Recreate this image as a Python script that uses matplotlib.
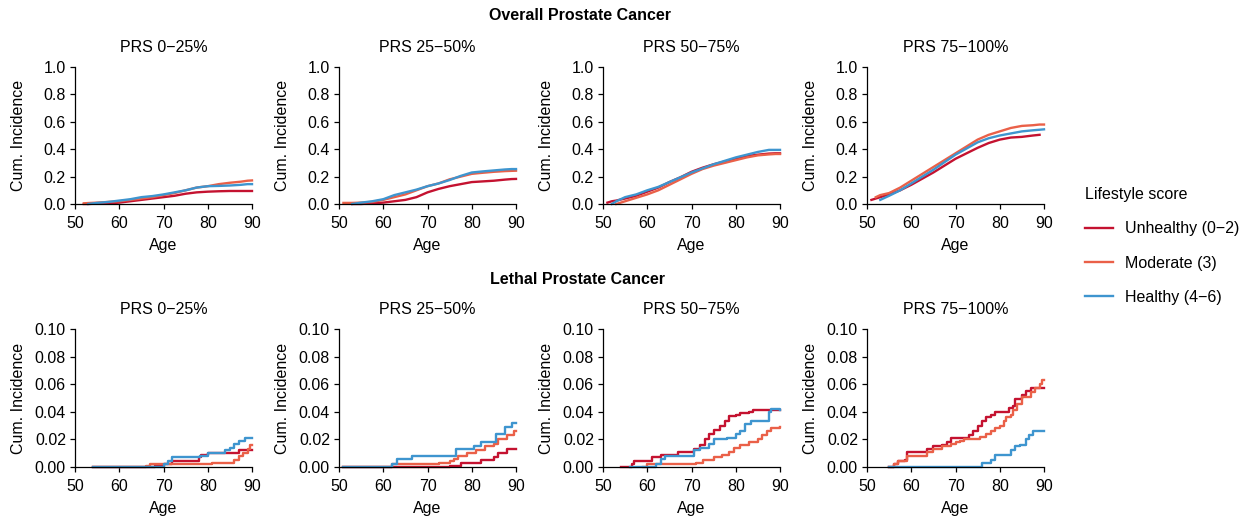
import numpy as np
import matplotlib
matplotlib.use('Agg')
import matplotlib.pyplot as plt

plt.rcParams['font.family'] = ['Liberation Sans', 'DejaVu Sans']
plt.rcParams['font.size'] = 11.5

nan = np.nan

# group labels
prs_groups = ['PRS 0\u221225%', 'PRS 25\u221250%', 'PRS 50\u221275%', 'PRS 75\u2212100%']
lifestyle = ['Unhealthy (0\u22122)', 'Moderate (3)', 'Healthy (4\u22126)']
colors = ['#C41230', '#EA6048', '#3E95CF']

# ---- overall prostate cancer ----
ages_ov = [50, 51, 52, 53, 55, 57.5, 60, 62.5, 65, 67.5, 70, 72.5, 75, 77.5, 80, 82.5, 85, 87.5, 89, 90]

ov1_unh = [nan, nan, 0.0, 0.0, 0.003, 0.005, 0.01, 0.02, 0.03, 0.04, 0.05, 0.06, 0.075, 0.085, 0.09, 0.093, 0.095, 0.095, 0.095, 0.095]
ov1_mod = [nan, nan, 0.005, 0.007, 0.01, 0.015, 0.02, 0.03, 0.04, 0.05, 0.065, 0.08, 0.1, 0.12, 0.13, 0.145, 0.155, 0.163, 0.17, 0.172]
ov1_hea = [nan, nan, nan, 0.0, 0.008, 0.015, 0.025, 0.035, 0.05, 0.058, 0.07, 0.085, 0.1, 0.12, 0.13, 0.132, 0.135, 0.14, 0.145, 0.145]

ov2_unh = [nan, nan, nan, 0.0, 0.0, 0.005, 0.01, 0.02, 0.03, 0.05, 0.085, 0.11, 0.13, 0.145, 0.16, 0.165, 0.17, 0.178, 0.182, 0.183]
ov2_mod = [nan, 0.008, 0.008, 0.008, 0.01, 0.015, 0.03, 0.05, 0.07, 0.1, 0.13, 0.15, 0.18, 0.2, 0.22, 0.228, 0.235, 0.24, 0.242, 0.243]
ov2_hea = [nan, nan, nan, 0.0, 0.01, 0.02, 0.035, 0.065, 0.085, 0.105, 0.13, 0.15, 0.175, 0.205, 0.23, 0.238, 0.245, 0.252, 0.255, 0.255]

ov3_unh = [nan, 0.01, 0.02, 0.025, 0.04, 0.06, 0.09, 0.12, 0.16, 0.195, 0.235, 0.265, 0.29, 0.31, 0.33, 0.35, 0.36, 0.368, 0.37, 0.37]
ov3_mod = [nan, nan, nan, 0.0, 0.02, 0.045, 0.07, 0.1, 0.14, 0.18, 0.22, 0.255, 0.28, 0.3, 0.32, 0.34, 0.355, 0.362, 0.365, 0.365]
ov3_hea = [nan, nan, 0.0, 0.02, 0.05, 0.07, 0.1, 0.125, 0.16, 0.195, 0.23, 0.26, 0.29, 0.315, 0.34, 0.36, 0.38, 0.395, 0.395, 0.395]

ov4_unh = [nan, 0.03, 0.04, 0.05, 0.07, 0.1, 0.14, 0.185, 0.23, 0.28, 0.33, 0.37, 0.41, 0.445, 0.47, 0.485, 0.49, 0.5, 0.505, nan]
ov4_mod = [nan, nan, 0.05, 0.065, 0.08, 0.12, 0.17, 0.22, 0.27, 0.32, 0.37, 0.42, 0.47, 0.505, 0.53, 0.555, 0.57, 0.575, 0.58, 0.58]
ov4_hea = [nan, nan, nan, 0.03, 0.06, 0.1, 0.15, 0.2, 0.25, 0.305, 0.36, 0.405, 0.45, 0.48, 0.5, 0.515, 0.53, 0.538, 0.542, 0.545]

# ---- lethal prostate cancer (step curves) ----
le1_unh_age = [54, 68, 70, 72, 78, 78.5, 80, 87, 88, 90]
le1_unh = [0.0, 0.001, 0.002, 0.004, 0.007, 0.009, 0.01, 0.012, 0.012, 0.012]
le1_mod_age = [54, 66, 67, 81, 86, 87, 88, 89, 89.5, 90]
le1_mod = [0.0, 0.001, 0.002, 0.003, 0.005, 0.008, 0.01, 0.013, 0.016, 0.016]
le1_hea_age = [54, 70, 71, 72, 78.3, 80, 84, 85, 86, 87, 88.5, 90]
le1_hea = [0.0, 0.002, 0.004, 0.007, 0.008, 0.01, 0.012, 0.014, 0.017, 0.019, 0.021, 0.021]

le2_unh_age = [51, 75, 77.5, 82, 85, 86, 88, 90]
le2_unh = [0.0, 0.001, 0.003, 0.005, 0.007, 0.01, 0.013, 0.013]
le2_mod_age = [51, 62, 72.5, 75, 76, 77, 79, 81, 83, 85, 86, 88, 89.5, 90]
le2_mod = [0.0, 0.002, 0.003, 0.004, 0.006, 0.008, 0.01, 0.012, 0.015, 0.017, 0.02, 0.023, 0.026, 0.026]
le2_hea_age = [51, 62, 63, 66.5, 76.5, 80.5, 82, 85.5, 87.5, 89, 90]
le2_hea = [0.0, 0.002, 0.006, 0.008, 0.013, 0.015, 0.018, 0.024, 0.029, 0.032, 0.032]

le3_unh_age = [54, 56.5, 57, 61, 63, 67, 70.5, 72, 73, 74, 75, 76.5, 77.5, 78.5, 80, 81, 83, 84, 90]
le3_unh = [0.0, 0.002, 0.004, 0.007, 0.009, 0.011, 0.013, 0.016, 0.02, 0.024, 0.027, 0.03, 0.033, 0.037, 0.038, 0.039, 0.04, 0.041, 0.041]
le3_mod_age = [59, 60, 71, 72.5, 75, 77, 78.5, 79.5, 81, 83, 85, 86, 87, 88, 90]
le3_mod = [0.0, 0.002, 0.003, 0.005, 0.007, 0.009, 0.011, 0.014, 0.016, 0.018, 0.02, 0.023, 0.026, 0.028, 0.029]
le3_hea_age = [56, 62, 63, 64, 70.5, 72, 74, 75, 78, 80, 81, 82, 83.5, 87.5, 88, 90]
le3_hea = [0.0, 0.002, 0.006, 0.008, 0.012, 0.014, 0.017, 0.02, 0.021, 0.024, 0.026, 0.031, 0.033, 0.04, 0.042, 0.041]

le4_unh_age = [55, 56, 57, 58.5, 59, 63.5, 65, 67, 68, 69, 73, 74, 75, 76, 77, 78, 79, 82, 83, 83.5, 85, 86, 87, 90]
le4_unh = [0.0, 0.002, 0.004, 0.005, 0.011, 0.013, 0.015, 0.016, 0.018, 0.021, 0.023, 0.026, 0.03, 0.033, 0.036, 0.038, 0.04, 0.043, 0.044, 0.049, 0.052, 0.055, 0.057, 0.057]
le4_mod_age = [55, 56, 57, 59, 63.5, 65, 67, 69, 70, 71, 72, 75.5, 77, 78, 79, 80, 81, 81.5, 82.5, 83, 84, 85, 87, 88, 89, 89.5, 90]
le4_mod = [0.0, 0.002, 0.004, 0.008, 0.011, 0.013, 0.015, 0.017, 0.018, 0.019, 0.02, 0.022, 0.024, 0.026, 0.028, 0.03, 0.033, 0.036, 0.038, 0.041, 0.046, 0.051, 0.054, 0.057, 0.06, 0.063, 0.063]
le4_hea_age = [55, 76, 78, 79, 82.5, 83.5, 84.5, 86, 86.5, 87.5, 90]
le4_hea = [0.0, 0.003, 0.005, 0.009, 0.012, 0.015, 0.016, 0.02, 0.023, 0.026, 0.026]

overall = [
    [ov1_unh, ov1_mod, ov1_hea],
    [ov2_unh, ov2_mod, ov2_hea],
    [ov3_unh, ov3_mod, ov3_hea],
    [ov4_unh, ov4_mod, ov4_hea],
]
lethal = [
    [(le1_unh_age, le1_unh), (le1_mod_age, le1_mod), (le1_hea_age, le1_hea)],
    [(le2_unh_age, le2_unh), (le2_mod_age, le2_mod), (le2_hea_age, le2_hea)],
    [(le3_unh_age, le3_unh), (le3_mod_age, le3_mod), (le3_hea_age, le3_hea)],
    [(le4_unh_age, le4_unh), (le4_mod_age, le4_mod), (le4_hea_age, le4_hea)],
]

W, H = 1259, 516
fig = plt.figure(figsize=(W / 100, H / 100), dpi=100)

col_left = [75, 339, 603, 867]
ax_w = 177


def style_axes(ax, ymax, yticks, fmt):
    ax.set_xlim(50, 90)
    ax.set_ylim(0, ymax)
    ax.set_xticks([50, 60, 70, 80, 90])
    ax.set_yticks(yticks)
    ax.set_yticklabels([fmt.format(t) for t in yticks])
    ax.spines['top'].set_visible(False)
    ax.spines['right'].set_visible(False)
    for s in ['left', 'bottom']:
        ax.spines[s].set_linewidth(0.9)
    ax.tick_params(direction='out', length=3.5, width=0.9, pad=3)
    ax.tick_params(axis='x', pad=5)
    ax.set_xlabel('Age', labelpad=5)
    ax.set_ylabel('Cum. Incidence')
    # same label spot in both rows, like the original
    ax.yaxis.set_label_coords(-0.275, 0.5)
    ax.patch.set_alpha(0)


lines = []
for i in range(4):
    # top row
    ax = fig.add_axes([col_left[i] / W, (H - 204) / H, ax_w / W, 137 / H])
    for j in range(3):
        ln, = ax.plot(ages_ov, overall[i][j], color=colors[j], lw=1.7,
                      label=lifestyle[j], clip_on=False)
        if i == 0:
            lines.append(ln)
    style_axes(ax, 1.0, [0, 0.2, 0.4, 0.6, 0.8, 1.0], '{:.1f}')
    ax.set_title(prs_groups[i], pad=11, fontsize=11.5)

    # bottom row
    ax2 = fig.add_axes([col_left[i] / W, (H - 467) / H, ax_w / W, 138 / H])
    for j in range(3):
        a, v = lethal[i][j]
        ax2.plot(a, v, color=colors[j], lw=1.7, drawstyle='steps-post', clip_on=False)
    style_axes(ax2, 0.10, [0, 0.02, 0.04, 0.06, 0.08, 0.10], '{:.2f}')
    ax2.set_title(prs_groups[i], pad=11, fontsize=11.5)

fig.text(580 / W, 1 - 15 / H, 'Overall Prostate Cancer', ha='center', va='center',
         fontweight='bold', fontsize=11.5)
fig.text(578 / W, 1 - 279 / H, 'Lethal Prostate Cancer', ha='center', va='center',
         fontweight='bold', fontsize=11.5)

leg = fig.legend(handles=lines, labels=lifestyle, title='Lifestyle score',
                 loc='upper left', bbox_to_anchor=(1077 / W, 1 - 179 / H),
                 frameon=False, borderpad=0, handlelength=1.75, handletextpad=0.75,
                 labelspacing=1.2, alignment='left', fontsize=11.5,
                 title_fontsize=11.5)
leg._legend_box.sep = 14

fig.savefig('out.png', dpi=100)
